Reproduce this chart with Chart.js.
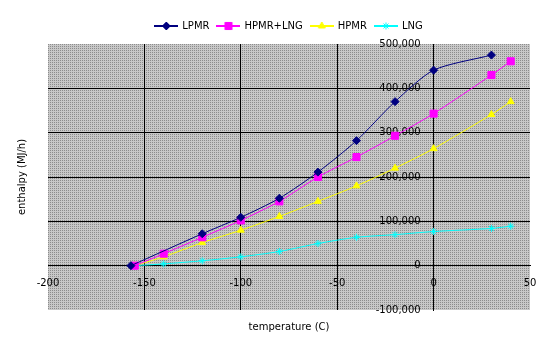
<!DOCTYPE html>
<html>
<head>
<meta charset="utf-8">
<script src="https://cdn.jsdelivr.net/npm/chart.js@4"></script>
<style>
  html, body { margin: 0; padding: 0; background: #fff; }
  #wrap { width: 559px; height: 363px; }
</style>
</head>
<body>
<div id="wrap"><canvas id="myChart"></canvas></div>
<script>
// data
const lpmrTemp = [-157, -120, -100, -80, -60, -40, -20, 0, 30];
const lpmrEnthalpy = [0, 72000, 109000, 152000, 211000, 282000, 370000, 441000, 475000];
const temps = [-155, -140, -120, -100, -80, -60, -40, -20, 0, 30, 40];
const hpmrLngEnthalpy = [0, 27000, 64000, 102000, 145000, 200000, 245000, 293000, 343000, 430000, 461000];
const hpmrEnthalpy = [0, 20000, 52000, 80000, 111000, 145000, 180000, 220000, 264000, 341000, 370000];
const lngEnthalpy = [0, 4000, 11000, 20000, 32000, 50000, 64000, 70000, 77000, 84000, 89000];
const seriesNames = ['LPMR', 'HPMR+LNG', 'HPMR', 'LNG'];
const xRange = [-200, 50];
const yRange = [-100000, 500000];

Chart.defaults.font.family = 'DejaVu Sans';
Chart.defaults.font.size = 10;
Chart.defaults.color = '#000';

const toPoints = (xs, ys) => xs.map((x, i) => ({ x: x, y: ys[i] }));

function series(label, xs, ys, color, style, radius) {
  return {
    label: label,
    data: toPoints(xs, ys),
    borderColor: color,
    backgroundColor: color,
    borderWidth: 1,
    pointStyle: style,
    pointRadius: radius,
    pointHoverRadius: radius,
    pointBorderWidth: 1,
    tension: 0.25,
    xAxisID: 'x',
    yAxisID: 'y'
  };
}

// little line+marker picture for the legend (excel style)
function legendIcon(ds) {
  const c = document.createElement('canvas');
  c.width = 24; c.height = 10;
  const g = c.getContext('2d');
  g.strokeStyle = ds.borderColor;
  g.lineWidth = 2;
  g.beginPath(); g.moveTo(0, 5); g.lineTo(24, 5); g.stroke();
  g.fillStyle = ds.backgroundColor;
  g.lineWidth = 1;
  Chart.helpers.drawPoint(g, { pointStyle: ds.pointStyle, radius: ds.pointRadius, rotation: 0, borderWidth: 1 }, 12, 5);
  return c;
}

// grey dotted plot background
const plotBg = {
  id: 'plotBg',
  beforeDraw(chart) {
    const { ctx, chartArea: a } = chart;
    const p = document.createElement('canvas');
    p.width = 2; p.height = 2;
    const pg = p.getContext('2d');
    pg.fillStyle = '#c8c8c8'; pg.fillRect(0, 0, 2, 2);
    pg.fillStyle = '#8c8c8c'; pg.fillRect(0, 0, 1, 1);
    ctx.save();
    ctx.fillStyle = ctx.createPattern(p, 'repeat');
    ctx.fillRect(a.left, a.top, a.right - a.left, a.bottom - a.top);
    ctx.restore();
  }
};

const edgeless = (lo, hi) => (c) => (c.tick && (c.tick.value === lo || c.tick.value === hi)) ? 'rgba(0,0,0,0)' : '#000';

const ctx = document.getElementById('myChart');

new Chart(ctx, {
  type: 'line',
  data: {
    datasets: [
      series(seriesNames[0], lpmrTemp, lpmrEnthalpy, '#000080', 'rectRot', 4),
      series(seriesNames[1], temps, hpmrLngEnthalpy, '#ff00ff', 'rect', 5),
      series(seriesNames[2], temps, hpmrEnthalpy, '#ffff00', 'triangle', 4),
      series(seriesNames[3], temps, lngEnthalpy, '#00ffff', 'star', 3.5)
    ]
  },
  options: {
    responsive: true,
    maintainAspectRatio: false,
    animation: false,
    layout: { padding: { top: 13, left: 12, right: 29, bottom: 26 } },
    plugins: {
      tooltip: { enabled: false },
      legend: {
        position: 'top',
        fullSize: false,
        labels: {
          usePointStyle: true,
          pointStyleWidth: 22,
          padding: 8,
          color: '#000',
          generateLabels(chart) {
            return chart.data.datasets.map((ds, i) => ({
              text: ds.label,
              pointStyle: legendIcon(ds),
              fillStyle: ds.backgroundColor,
              strokeStyle: ds.borderColor,
              lineWidth: 0,
              fontColor: '#000',
              datasetIndex: i,
              hidden: false
            }));
          }
        }
      }
    },
    scales: {
      x: {
        type: 'linear',
        axis: 'x',
        min: xRange[0],
        max: xRange[1],
        position: { y: 0 },
        ticks: { stepSize: 50, padding: 12, maxRotation: 0 },
        grid: { color: edgeless(xRange[0], xRange[1]), drawTicks: false },
        border: { color: '#000' }
      },
      y: {
        type: 'linear',
        axis: 'y',
        min: yRange[0],
        max: yRange[1],
        position: { x: 0 },
        ticks: { display: false, stepSize: 100000 },
        grid: { color: edgeless(yRange[0], yRange[1]), drawTicks: false },
        border: { color: '#000' }
      },
      // tick labels of the y axis, sitting a little left of the x=0 line
      yl: {
        type: 'linear',
        axis: 'y',
        min: yRange[0],
        max: yRange[1],
        position: { x: -6.7 },
        ticks: { stepSize: 100000, callback: (v) => v.toLocaleString('en-US') },
        grid: { display: false, drawTicks: false },
        border: { display: false }
      },
      // small gap between legend and plot
      gap: {
        type: 'linear',
        axis: 'x',
        position: 'top',
        ticks: { display: false },
        grid: { display: false, drawTicks: false },
        border: { display: false },
        afterFit: (s) => { s.height = 3; }
      },
      xt: {
        type: 'linear',
        axis: 'x',
        position: 'bottom',
        ticks: { display: false },
        grid: { display: false, drawTicks: false },
        border: { display: false },
        title: { display: true, text: 'temperature (C)', padding: { top: 11, bottom: 4 } }
      },
      yt: {
        type: 'linear',
        axis: 'y',
        position: 'left',
        ticks: { display: false },
        grid: { display: false, drawTicks: false },
        border: { display: false },
        title: { display: true, text: 'enthalpy (MJ/h)', padding: { top: 4, bottom: 20 } }
      }
    }
  },
  plugins: [plotBg]
});
</script>
</body>
</html>
